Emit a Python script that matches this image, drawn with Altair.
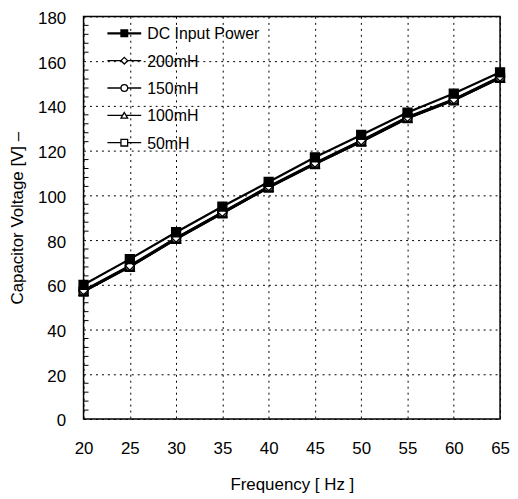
import altair as alt
import pandas as pd

# ---- data ----
freq = [20, 25, 30, 35, 40, 45, 50, 55, 60, 65]
dc_input = [60.0, 71.5, 83.5, 95.0, 106.0, 117.0, 127.0, 137.0, 145.5, 155.0]
mh200 = [57.5, 68.5, 81.0, 92.5, 104.0, 114.5, 124.5, 135.0, 143.0, 153.0]
mh150 = [57.3, 68.3, 80.8, 92.3, 103.8, 114.3, 124.3, 134.8, 142.8, 152.8]
mh100 = [57.0, 68.0, 80.5, 92.0, 103.5, 114.0, 124.0, 134.5, 142.5, 152.5]
mh50 = [57.0, 68.0, 80.5, 92.0, 103.5, 114.0, 124.0, 134.5, 142.5, 152.5]

series_names = ["DC Input Power", "200mH", "150mH", "100mH", "50mH"]
series_values = [dc_input, mh200, mh150, mh100, mh50]
series_shapes = ["square", "diamond", "circle", "triangle-up", "square"]
series_fills = ["black", "white", "white", "white", "white"]
legend_line_widths = [2.2, 1.4, 1.4, 1.4, 1.4]

x_ticks = [20, 25, 30, 35, 40, 45, 50, 55, 60, 65]
y_ticks = [0, 20, 40, 60, 80, 100, 120, 140, 160, 180]
y_minor = [v for v in range(0, 181, 4) if v % 20 != 0]

FONT = "Liberation Sans"

rows = []
# draw order: lower series first so the filled DC markers sit on top
for draw_idx, k in enumerate([4, 3, 2, 1, 0]):
    for f, v in zip(freq, series_values[k]):
        rows.append({"series": series_names[k], "freq": f, "value": v, "ord": draw_idx})
df = pd.DataFrame(rows)

shape_scale = alt.Scale(domain=series_names, range=series_shapes)
fill_scale = alt.Scale(domain=series_names, range=series_fills)

x_enc = alt.X(
    "freq:Q",
    scale=alt.Scale(domain=[20, 65], nice=False, zero=False),
    axis=alt.Axis(
        values=x_ticks, title="Frequency [ Hz ]", grid=True, ticks=False,
        domain=False, labelPadding=22, titlePadding=20, labelFlush=False,
    ),
)
y_enc = alt.Y(
    "value:Q",
    scale=alt.Scale(domain=[0, 180], nice=False),
    axis=alt.Axis(
        values=y_ticks, title="Capacitor Voltage [V] \u2013", grid=True, ticks=False,
        domain=False, labelPadding=18, titlePadding=11, labelOffset=2,
        labelFlush=False,
    ),
)

lines = alt.Chart(df).mark_line(color="black", strokeWidth=2.2).encode(
    x=x_enc, y=y_enc, detail="series:N"
)

points = alt.Chart(df).mark_point(
    filled=True, stroke="black", strokeWidth=1.4, size=80, opacity=1
).encode(
    x="freq:Q",
    y="value:Q",
    shape=alt.Shape("series:N", scale=shape_scale, legend=None),
    fill=alt.Fill("series:N", scale=fill_scale, legend=None),
    order="ord:Q",
)

minor_df = pd.DataFrame({"value": y_minor})
minor_ticks = alt.Chart(minor_df).mark_rule(color="black", strokeWidth=1).encode(
    y="value:Q", x=alt.value(0), x2=alt.value(5)
)

main = alt.layer(lines, points, minor_ticks)

# ---- manual legend ----
leg_df = pd.DataFrame({
    "series": series_names,
    "idx": list(range(len(series_names))),
    "lw": legend_line_widths,
})
leg_y = alt.Y(
    "idx:O",
    scale=alt.Scale(type="point", domain=list(range(5)), range=[17, 127], padding=0),
    axis=None,
)
leg_rule = alt.Chart(leg_df).mark_rule(color="black").encode(
    y=leg_y, x=alt.value(24), x2=alt.value(58),
    strokeWidth=alt.StrokeWidth("lw:Q", scale=None, legend=None),
)
leg_pts = alt.Chart(leg_df).mark_point(
    filled=True, stroke="black", strokeWidth=1.3, size=45, opacity=1
).encode(
    y=leg_y,
    x=alt.value(41),
    shape=alt.Shape("series:N", scale=shape_scale, legend=None),
    fill=alt.Fill("series:N", scale=fill_scale, legend=None),
)
leg_txt = alt.Chart(leg_df).mark_text(
    align="left", baseline="middle", fontSize=16, font=FONT, color="black", dy=1
).encode(y=leg_y, x=alt.value(64), text="series:N")

legend = alt.layer(leg_rule, leg_pts, leg_txt)

chart = (
    alt.layer(main, legend)
    .resolve_scale(y="independent")
    .properties(
        width=419,
        height=405,
        autosize=alt.AutoSizeParams(type="none"),
        padding={"left": 76, "top": 7, "right": 10, "bottom": 80},
        background="white",
    )
    .configure_view(stroke="black", strokeWidth=1.5)
    .configure_axis(
        gridColor="black", gridDash=[2, 4], gridWidth=1, gridOpacity=1,
        labelFont=FONT, labelFontSize=17, labelColor="black",
        titleFont=FONT, titleFontSize=17, titleColor="black", titleFontWeight="normal",
    )
)

chart.save("out.html", embed_options={"renderer": "svg", "actions": False})
